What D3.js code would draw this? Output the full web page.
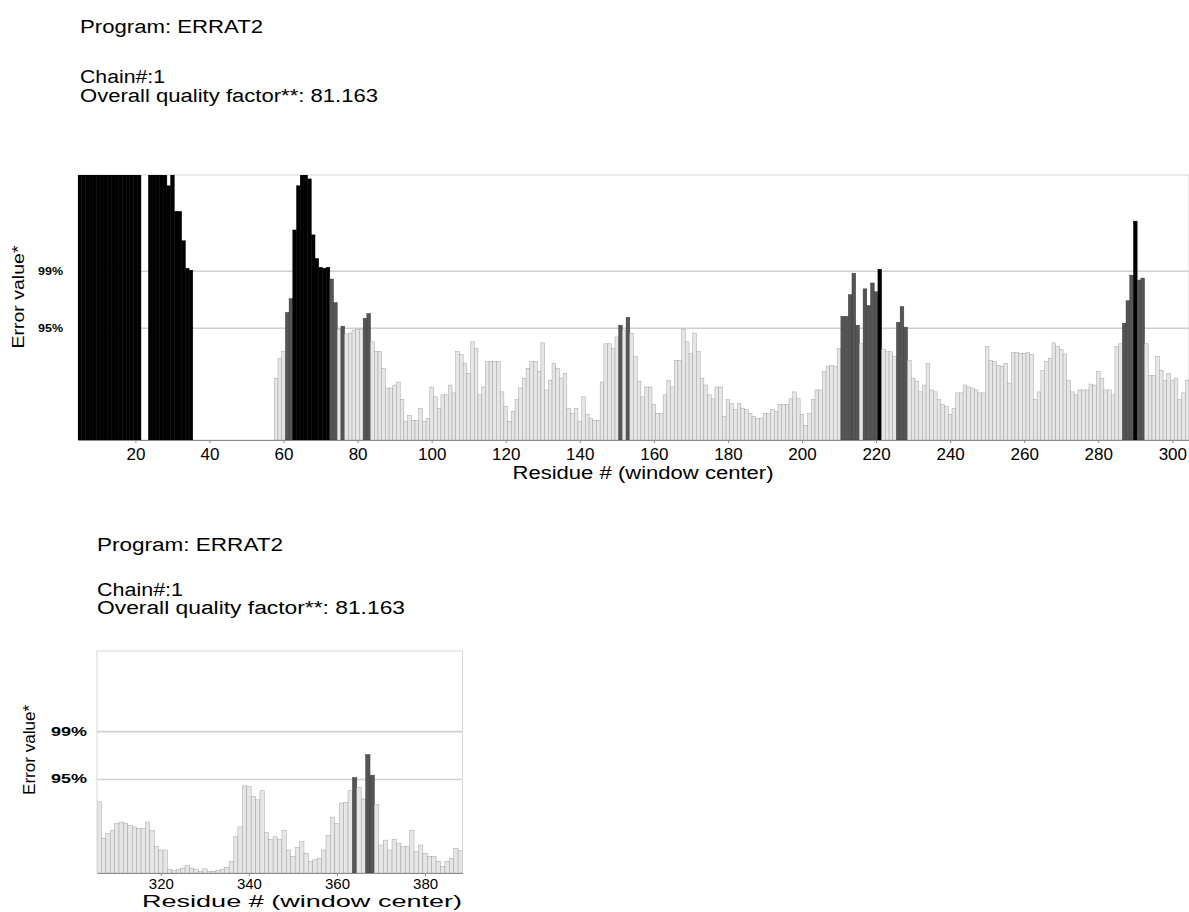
<!DOCTYPE html>
<html><head><meta charset="utf-8">
<script src="https://cdn.jsdelivr.net/npm/d3@7"></script>
<style>
body{margin:0;background:#fff;}
svg{display:block;}
text{font-family:"Liberation Sans",Arial,Helvetica,sans-serif;fill:#000;}
</style>
</head><body>
<svg id="chart" width="1189" height="912"></svg>
<script>
// ---------------- data ----------------
const headerLines = ["Program: ERRAT2", "Chain#:1", "Overall quality factor**: 81.163"];
const xTitle = "Residue # (window center)";
const yTitle = "Error value*";
const thresholdLabels = ["95%", "99%"];
const thresholdValues = [11.38, 17.19];
const yMax = 27;

const topStart = 5;   // first residue (window center) of the upper panel
const topValues = [
  27,27,27,27,27,27,27,27,27,27,
  27,27,27,27,27,27,27,0,0,27,
  27,27,27,27,25.9,27,23.3,23.3,20.3,17.5,
  17.3,0,0,0,0,0,0,0,0,0,
  0,0,0,0,0,0,0,0,0,0,
  0,0,0,6.3,8.3,9.0,13.0,14.4,21.4,25.9,
  27,27,26.6,20.9,18.5,17.6,17.5,17.6,16.4,14.0,
  11.3,11.6,10.8,10.9,11.2,11.3,11.3,12.4,12.9,10.0,
  9.0,9.0,7.3,5.3,5.3,5.6,5.9,4.1,1.9,2.5,
  2.0,2.0,3.2,1.9,2.2,5.4,4.4,3.2,4.6,4.6,
  5.6,4.8,9.0,8.7,7.8,6.8,10.0,9.3,4.6,5.4,
  8.0,8.0,8.0,8.0,4.9,3.4,1.9,2.9,4.1,5.3,
  6.3,7.3,8.0,8.0,7.0,9.9,5.1,6.1,7.8,7.3,
  6.3,6.8,3.2,2.7,3.2,1.9,4.4,2.6,2.2,2.0,
  2.0,5.9,9.8,9.8,9.3,10.5,11.7,11.2,12.5,10.9,
  8.5,6.0,4.4,5.4,5.4,3.6,2.7,2.7,4.6,6.1,
  5.4,8.1,8.1,11.3,10.0,8.8,10.9,9.0,6.3,5.6,
  4.6,4.2,5.4,5.4,2.4,4.1,3.7,3.1,3.7,3.2,
  3.1,2.7,2.4,2.2,2.2,2.7,2.7,3.1,2.9,3.6,
  3.6,3.6,4.2,4.9,4.2,2.6,1.5,2.7,4.1,5.1,
  5.1,7.0,7.5,7.6,7.5,9.3,12.6,12.6,14.8,17.0,
  11.7,9.8,15.4,13.7,16.0,15.1,17.4,9.2,9.0,9.0,
  8.5,12.0,13.6,11.5,8.1,6.3,6.0,4.9,5.6,7.8,
  5.1,4.9,4.1,3.6,3.4,2.6,3.2,4.8,4.8,5.6,
  5.4,5.3,5.1,4.8,4.8,9.5,8.1,8.0,7.6,7.5,
  7.8,5.8,8.9,8.9,8.8,8.8,8.9,8.7,4.1,4.9,
  7.1,8.0,8.3,9.9,9.5,9.2,8.7,6.1,4.9,4.6,
  5.1,5.1,5.1,5.7,5.6,7.0,6.3,5.1,5.1,4.6,
  9.5,9.8,11.9,14.2,16.8,22.3,16.3,16.5,9.8,6.6,
  6.6,8.5,7.1,6.1,6.8,6.1,6.3,4.1,4.8,6.1
];
const topTicks = [20,40,60,80,100,120,140,160,180,200,220,240,260,280,300];

const bottomStart = 306; // first residue of the lower panel
const bottomValues = [
  8.65,4.2,4.8,5.2,6.0,6.2,6.0,5.8,5.6,5.4,
  5.4,6.2,5.15,3.2,2.8,2.8,0.4,0.3,0.4,0.6,
  0.9,0.6,0.4,0.2,0.5,0.2,0.2,0.3,0.4,0.7,
  1.4,4.4,5.6,10.6,10.5,9.3,8.9,10.0,4.9,4.1,
  4.4,4.1,5.2,2.8,2.0,3.1,3.8,2.4,1.4,1.6,
  1.8,2.8,4.6,6.8,6.0,8.5,8.6,10.0,11.6,10.4,
  9.0,14.4,11.9,8.3,3.4,4.0,2.8,4.1,3.6,3.2,
  3.2,5.2,2.6,3.4,2.4,2.0,2.0,1.4,0.8,1.4,
  1.8,3.0,2.7
];
const bottomTicks = [320,340,360,380];

// ---------------- drawing ----------------
const svg = d3.select("#chart");
const FONT = '"Liberation Sans",Arial,Helvetica,sans-serif';

function barColor(v){
  if (v > thresholdValues[1]) return "#000";
  if (v > thresholdValues[0]) return "#555";
  return "#e6e6e6";
}

function header(x, baselines, widths, size){
  headerLines.forEach((t,i)=>{
    svg.append("text").attr("x",x).attr("y",baselines[i])
      .attr("font-size",size).attr("textLength",widths[i])
      .attr("lengthAdjust","spacingAndGlyphs").text(t);
  });
}

function panel(cfg){
  const {id, values, start, left, right, top, bottom, domain, ticks} = cfg;
  const data = values.map((v,i)=>({r:start+i, v}));
  const x = d3.scaleLinear().domain(domain).range([left,right]);
  const y = d3.scaleLinear().domain([0,yMax]).range([bottom,top]);
  const g = svg.append("g");

  g.append("clipPath").attr("id","clip"+id).append("rect")
    .attr("x",left).attr("y",top).attr("width",right-left).attr("height",bottom-top);

  // frame
  g.append("rect").attr("x",left).attr("y",top).attr("width",right-left).attr("height",bottom-top)
    .attr("fill","none").attr("stroke","#d8d8d8").attr("stroke-width",1);

  // threshold grid lines
  g.selectAll(".grid").data(thresholdValues).join("line")
    .attr("x1",left).attr("x2",right)
    .attr("y1",d=>y(d)).attr("y2",d=>y(d))
    .attr("stroke","#cfcfcf").attr("stroke-width",1.6);

  // bars
  g.append("g").attr("clip-path","url(#clip"+id+")")
    .selectAll("rect").data(data.filter(d=>d.v>0)).join("rect")
    .attr("x",d=>x(d.r-0.5))
    .attr("width",d=>x(d.r+0.5)-x(d.r-0.5))
    .attr("y",d=>y(Math.min(d.v,yMax)))
    .attr("height",d=>y(0)-y(Math.min(d.v,yMax)))
    .attr("fill",d=>barColor(d.v))
    .attr("stroke",d=>d.v>thresholdValues[1]?"#000":(d.v>thresholdValues[0]?"#3a3a3a":"#9c9c9c"))
    .attr("stroke-width",0.45);

  // x axis
  const ax = g.append("g").attr("transform",`translate(0,${bottom})`)
    .call(d3.axisBottom(x).tickValues(ticks).tickSize(3).tickPadding(cfg.tickPad).tickSizeOuter(0));
  ax.select(".domain").attr("stroke","#8a8a8a").attr("stroke-width",1);
  ax.selectAll(".tick line").attr("stroke","#8a8a8a");
  ax.selectAll(".tick text").attr("font-family",FONT).attr("font-size",cfg.tickSize).attr("fill","#000");

  // threshold labels
  thresholdValues.forEach((t,i)=>{
    g.append("text").attr("x",cfg.thrX).attr("y",y(t)+4)
      .attr("font-size",cfg.thrSize).attr("font-weight","bold")
      .attr("textLength",cfg.thrLen).attr("lengthAdjust","spacingAndGlyphs")
      .text(thresholdLabels[i]);
  });

  // axis titles
  g.append("text").attr("x",cfg.xTitleX).attr("y",cfg.xTitleY)
    .attr("text-anchor","middle").attr("font-size",cfg.xTitleSize)
    .attr("textLength",cfg.xTitleLen).attr("lengthAdjust","spacingAndGlyphs")
    .text(xTitle);
  g.append("text")
    .attr("transform",`translate(${cfg.yTitleX},${cfg.yTitleY}) rotate(-90)`)
    .attr("text-anchor","middle").attr("font-size",cfg.yTitleSize)
    .attr("textLength",cfg.yTitleLen).attr("lengthAdjust","spacingAndGlyphs")
    .text(yTitle);
}

header(80, [33,83,102], [183,85,298], 18);
header(97, [551,596,614], [186,86,308], 18);

panel({id:"top", values:topValues, start:topStart, left:78, right:1189, top:175, bottom:440,
  domain:[4.5,304.5], ticks:topTicks, tickPad:5, tickSize:17,
  thrX:38, thrSize:11, thrLen:25,
  xTitleX:643, xTitleY:479, xTitleSize:18, xTitleLen:261,
  yTitleX:24, yTitleY:297, yTitleSize:16, yTitleLen:103});

panel({id:"bot", values:bottomValues, start:bottomStart, left:97, right:462.5, top:651, bottom:873,
  domain:[305.5,388.5], ticks:bottomTicks, tickPad:2, tickSize:15,
  thrX:51, thrSize:12, thrLen:36,
  xTitleX:302, xTitleY:907, xTitleSize:16, xTitleLen:320,
  yTitleX:35, yTitleY:750, yTitleSize:16, yTitleLen:90});
</script>
</body></html>
